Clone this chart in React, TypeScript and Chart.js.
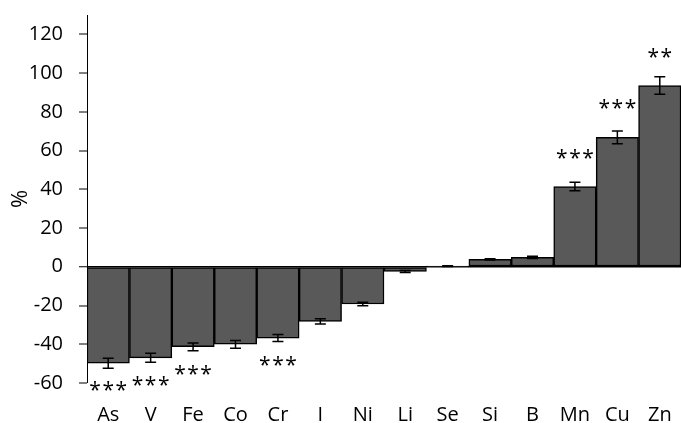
import React, { useEffect, useRef } from "react";
import { Chart, registerables } from "chart.js";

Chart.register(...registerables);

// Change of element content (%) with standard error and significance markers
const categories = ["As", "V", "Fe", "Co", "Cr", "I", "Ni", "Li", "Se", "Si", "B", "Mn", "Cu", "Zn"];
const values = [-49.8, -47.0, -41.3, -40.0, -36.8, -28.2, -19.2, -2.4, 0.3, 3.8, 4.9, 41.4, 66.8, 93.6];
const errors = [2.6, 2.3, 2.0, 2.0, 1.8, 1.4, 0.9, 0.5, 0.2, 0.3, 0.6, 2.2, 3.3, 4.5];
const significance = ["***", "***", "***", "", "***", "", "", "", "", "", "", "***", "***", "**"];
const yTickValues = [-60, -40, -20, 0, 20, 40, 60, 80, 100, 120];

const FONT = "'Open Sans', 'Liberation Sans', sans-serif";

const errorBarsAndStars = {
  id: "errorBarsAndStars",
  afterDatasetsDraw(chart: any) {
    const { ctx, scales } = chart;
    const yScale = scales.y;
    const meta = chart.getDatasetMeta(0);
    ctx.save();
    meta.data.forEach((bar: any, i: number) => {
      const v = values[i];
      const e = errors[i];
      const x = bar.x;
      const yHi = yScale.getPixelForValue(v + e);
      const yLo = yScale.getPixelForValue(v - e);
      const cap = 5.5;
      ctx.strokeStyle = "#000";
      ctx.lineWidth = 1.5;
      ctx.beginPath();
      ctx.moveTo(x, yHi);
      ctx.lineTo(x, yLo);
      ctx.moveTo(x - cap, yHi);
      ctx.lineTo(x + cap, yHi);
      ctx.moveTo(x - cap, yLo);
      ctx.lineTo(x + cap, yLo);
      ctx.stroke();

      const mark = significance[i];
      if (mark) {
        const end = yScale.getPixelForValue(v);
        const center = v >= 0 ? end - 31 : end + 25;
        ctx.fillStyle = "#000";
        ctx.font = `21px ${FONT}`;
        (ctx as any).letterSpacing = "1.5px";
        ctx.textAlign = "center";
        ctx.textBaseline = "alphabetic";
        ctx.fillText(mark, x + 0.75, center + 9);
      }
    });
    ctx.restore();
  },
};

export default function App() {
  const canvasRef = useRef<HTMLCanvasElement | null>(null);

  useEffect(() => {
    if (!canvasRef.current) return;
    const chart = new Chart(canvasRef.current, {
      type: "bar",
      data: {
        labels: categories,
        datasets: [
          {
            data: values,
            backgroundColor: "#595959",
            borderColor: "#000",
            borderWidth: 1.5,
            borderSkipped: false,
            categoryPercentage: 1,
            barPercentage: 1,
          },
        ],
      },
      options: {
        responsive: false,
        animation: false,
        devicePixelRatio: 1,
        layout: { padding: { top: 15, right: 0, left: 0, bottom: 0 } },
        plugins: {
          legend: { display: false },
          tooltip: { enabled: false },
        },
        scales: {
          x: {
            border: { display: false },
            grid: { display: false, drawTicks: false },
            ticks: {
              color: "#000",
              font: { family: FONT, size: 20 },
              padding: 20,
              maxRotation: 0,
              autoSkip: false,
            },
            afterFit: (axis: any) => {
              axis.height = 40;
              axis.paddingLeft = 0;
              axis.paddingRight = 0;
            },
          },
          y: {
            min: -60,
            max: 130,
            border: { display: true, color: "#000", width: 1 },
            grid: {
              drawOnChartArea: true,
              color: (c: any) => (c.tick && c.tick.value === 0 ? "#000" : "rgba(0,0,0,0)"),
              lineWidth: (c: any) => (c.tick && c.tick.value === 0 ? 1.5 : 0),
              tickColor: "#000",
              tickLength: 8,
              tickWidth: 1,
            },
            ticks: {
              color: "#000",
              font: { family: FONT, size: 20 },
              padding: 16,
            },
            afterBuildTicks: (axis: any) => {
              axis.ticks = yTickValues.map((value) => ({ value }));
            },
            title: {
              display: true,
              text: "%",
              color: "#000",
              font: { family: FONT, size: 22 },
              padding: { top: 8, bottom: 0 },
            },
            afterFit: (axis: any) => {
              axis.width = 87;
              axis.paddingTop = 0;
              axis.paddingBottom = 0;
            },
          },
        },
      },
      plugins: [errorBarsAndStars],
    });
    return () => chart.destroy();
  }, []);

  return (
    <div style={{ position: "fixed", left: 0, top: 0, width: 681, height: 423, background: "#fff" }}>
      <canvas ref={canvasRef} width={681} height={423} />
    </div>
  );
}
